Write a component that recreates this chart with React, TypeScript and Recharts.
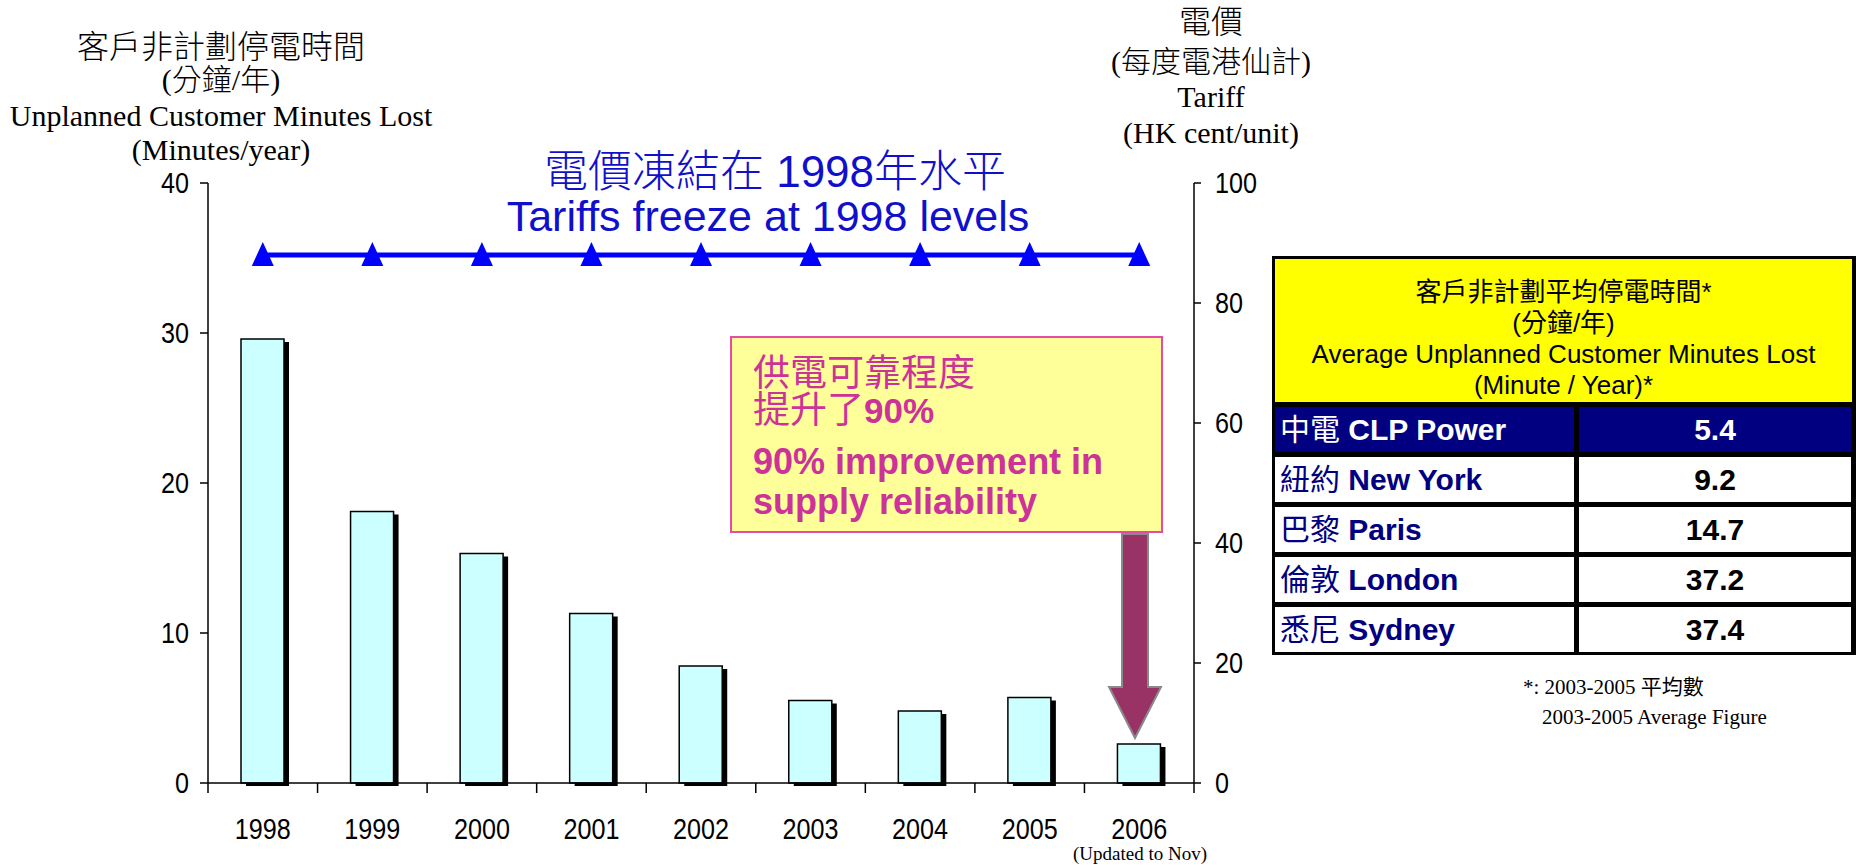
import { ComposedChart, Bar, Line, XAxis, YAxis } from "recharts";

// ---- data ----
const years = ["1998", "1999", "2000", "2001", "2002", "2003", "2004", "2005", "2006"];
const minutesLost = [29.6, 18.1, 15.3, 11.3, 7.8, 5.5, 4.8, 5.7, 2.6];
const tariff = [88, 88, 88, 88, 88, 88, 88, 88, 88]; // HK cent/unit, frozen
const leftTicks = [0, 10, 20, 30, 40];
const rightTicks = [0, 20, 40, 60, 80, 100];

const cityZh = ["中電", "紐約", "巴黎", "倫敦", "悉尼"];
const cityEn = ["CLP Power", "New York", "Paris", "London", "Sydney"];
const cityMinutes = ["5.4", "9.2", "14.7", "37.2", "37.4"];

const chartData = years.map((y, i) => ({ year: y, minutes: minutesLost[i], tariff: tariff[i] }));

const SANS = "'Liberation Sans', Arial, 'Noto Sans CJK TC', sans-serif";
const SERIF = "'Liberation Serif', 'Times New Roman', 'Noto Sans CJK TC', serif";

const ShadowBar = (props: any) => {
  const { x, y, width, height } = props;
  if (!height) return null;
  return (
    <g>
      <rect x={x + 5} y={y + 3} width={width} height={height} fill="#000" />
      <rect x={x} y={y} width={width} height={height} fill="#CCFFFF" stroke="#000" strokeWidth={1.5} />
    </g>
  );
};

const TriangleDot = (props: any) => {
  const { cx, cy, index } = props;
  return <path key={index} d={`M${cx},${cy - 13} L${cx + 11},${cy + 11} L${cx - 11},${cy + 11} Z`} fill="#0000FF" />;
};

// narrow, tall digits like the original
const NarrowText = ({ x, y, anchor, children }: any) => (
  <text
    transform={`translate(${x},${y}) scale(0.84,1)`}
    textAnchor={anchor}
    dominantBaseline="central"
    fill="#000"
    fontSize={30}
    fontFamily={SANS}
  >
    {children}
  </text>
);

const YearTick = (props: any) => {
  const { x, y, payload } = props;
  const half = payload.offset ?? 54.7;
  const idx = payload.index ?? props.index;
  return (
    <g>
      <line x1={x - half} x2={x - half} y1={y} y2={y + 10} stroke="#000" strokeWidth={1.5} />
      {idx === years.length - 1 && <line x1={x + half} x2={x + half} y1={y} y2={y + 10} stroke="#000" strokeWidth={1.5} />}
      <NarrowText x={x} y={y + 46} anchor="middle">{payload.value}</NarrowText>
    </g>
  );
};

const LeftTick = (props: any) => {
  const { x, y, payload } = props;
  return <NarrowText x={x} y={y} anchor="end">{payload.value}</NarrowText>;
};

const RightTick = (props: any) => {
  const { x, y, payload } = props;
  return <NarrowText x={x} y={y} anchor="start">{payload.value}</NarrowText>;
};

const Line1 = ({ cx, cy, size, font, color = "#000", weight = 400, children }: any) => (
  <div
    style={{
      position: "absolute", left: cx - 400, width: 800, top: cy - size * 0.6, height: size * 1.2, lineHeight: `${size * 1.2}px`,
      textAlign: "center", whiteSpace: "nowrap", fontSize: size, fontFamily: font, color, fontWeight: weight,
    }}
  >
    {children}
  </div>
);

export default function App() {
  return (
    <div style={{ position: "absolute", left: 0, top: 0, width: 1856, height: 865, background: "#fff", overflow: "hidden" }}>
      <ComposedChart
        width={1856}
        height={865}
        data={chartData}
        margin={{ top: 183, right: 602, bottom: 22, left: 148 }}
      >
        <XAxis
          dataKey="year"
          height={60}
          axisLine={{ stroke: "#000", strokeWidth: 1.5 }}
          tickLine={false}
          tickSize={0}
          tickMargin={0}
          interval={0}
          tick={<YearTick />}
        />
        <YAxis
          yAxisId="left"
          width={60}
          domain={[0, 40]}
          ticks={leftTicks}
          tickSize={8}
          tickMargin={11}
          axisLine={{ stroke: "#000", strokeWidth: 1.5 }}
          tickLine={{ stroke: "#000", strokeWidth: 1.5 }}
          tick={<LeftTick />}
        />
        <YAxis
          yAxisId="right"
          orientation="right"
          width={60}
          domain={[0, 100]}
          ticks={rightTicks}
          tickSize={7}
          tickMargin={14}
          axisLine={{ stroke: "#000", strokeWidth: 1.5 }}
          tickLine={{ stroke: "#000", strokeWidth: 1.5 }}
          tick={<RightTick />}
        />
        <Bar yAxisId="left" dataKey="minutes" barSize={43} shape={<ShadowBar />} isAnimationActive={false} />
        <Line
          yAxisId="right"
          dataKey="tariff"
          stroke="#0000FF"
          strokeWidth={5}
          dot={<TriangleDot />}
          activeDot={false}
          isAnimationActive={false}
        />
      </ComposedChart>

      {/* left axis title */}
      <Line1 cx={221} cy={47} size={32} font={SERIF} weight={300}>客戶非計劃停電時間</Line1>
      <Line1 cx={221} cy={80} size={30} font={SERIF} weight={300}>(分鐘/年)</Line1>
      <Line1 cx={221} cy={116} size={30} font={SERIF}>Unplanned Customer Minutes Lost</Line1>
      <Line1 cx={221} cy={150} size={30} font={SERIF}>(Minutes/year)</Line1>

      {/* right axis title */}
      <Line1 cx={1211} cy={22} size={32} font={SERIF} weight={300}>電價</Line1>
      <Line1 cx={1211} cy={62} size={30} font={SERIF} weight={300}>(每度電港仙計)</Line1>
      <Line1 cx={1211} cy={97} size={30} font={SERIF}>Tariff</Line1>
      <Line1 cx={1211} cy={133} size={30} font={SERIF}>(HK cent/unit)</Line1>

      {/* tariff freeze title */}
      <Line1 cx={775} cy={172} size={44} font={SANS} color="#1010CC" weight={300}>電價凍結在 1998年水平</Line1>
      <Line1 cx={768} cy={217} size={43} font={SANS} color="#1010CC">Tariffs freeze at 1998 levels</Line1>

      <Line1 cx={1140} cy={854} size={19} font={SERIF}>(Updated to Nov)</Line1>

      {/* reliability callout */}
      <div
        style={{
          position: "absolute", left: 730, top: 336, width: 433, height: 197, boxSizing: "border-box",
          background: "#FFFF99", border: "2px solid #E64BA8",
        }}
      />
      <div style={{ position: "absolute", left: 753, top: 352, lineHeight: "44px", fontSize: 37, fontFamily: SANS, color: "#CC3399", whiteSpace: "nowrap" }}>
        供電可靠程度
      </div>
      <div style={{ position: "absolute", left: 753, top: 389, lineHeight: "44px", fontSize: 37, fontFamily: SANS, color: "#CC3399", whiteSpace: "nowrap" }}>
        提升了<b style={{ fontSize: 35 }}>90%</b>
      </div>
      <div style={{ position: "absolute", left: 753, top: 440, lineHeight: "44px", fontSize: 36, fontWeight: 700, fontFamily: SANS, color: "#CC3399", whiteSpace: "nowrap" }}>
        90% improvement in
      </div>
      <div style={{ position: "absolute", left: 753, top: 480, lineHeight: "44px", fontSize: 36, fontWeight: 700, fontFamily: SANS, color: "#CC3399", whiteSpace: "nowrap" }}>
        supply reliability
      </div>
      <svg width={1856} height={865} style={{ position: "absolute", left: 0, top: 0, pointerEvents: "none" }}>
        <polygon
          points="1122,534 1148,534 1148,687 1161,687 1135,738 1109,687 1122,687"
          fill="#993366"
          stroke="#8A8A8A"
          strokeWidth={2}
        />
      </svg>

      {/* comparison table */}
      <div style={{ position: "absolute", left: 1272, top: 256, width: 584, background: "#000", padding: "3px 0 3px 3px", boxSizing: "border-box" }}>
        <div
          style={{
            background: "#FFFF00", height: 143, paddingTop: 18, boxSizing: "border-box", textAlign: "center",
            fontFamily: SANS, fontSize: 26, lineHeight: "31px", color: "#000", marginRight: 4,
          }}
        >
          <div>客戶非計劃平均停電時間*</div>
          <div>(分鐘/年)</div>
          <div>Average Unplanned Customer Minutes Lost</div>
          <div>(Minute / Year)*</div>
        </div>
        {cityEn.map((c, i) => {
          const bg = i === 0 ? "#000080" : "#fff";
          const fg = i === 0 ? "#fff" : "#000080";
          return (
            <div key={c} style={{ display: "flex", marginTop: 5, height: 45 }}>
              <div
                style={{
                  width: 299, background: bg, color: fg, fontFamily: SANS, fontWeight: 700, fontSize: 30,
                  lineHeight: "45px", paddingLeft: 5, boxSizing: "border-box", whiteSpace: "nowrap",
                }}
              >
                <span style={{ fontWeight: 400 }}>{cityZh[i]}</span> {c}
              </div>
              <div
                style={{
                  marginLeft: 5, width: 272, background: bg, color: i === 0 ? "#fff" : "#000", fontFamily: SANS,
                  fontWeight: 700, fontSize: 30, lineHeight: "45px", textAlign: "center",
                }}
              >
                {cityMinutes[i]}
              </div>
            </div>
          );
        })}
      </div>

      {/* footnote */}
      <div style={{ position: "absolute", left: 1523, top: 687 - 14, lineHeight: "28px", fontFamily: SERIF, fontSize: 21, whiteSpace: "nowrap" }}>
        *: 2003-2005 平均數
      </div>
      <div style={{ position: "absolute", left: 1542, top: 717 - 14, lineHeight: "28px", fontFamily: SERIF, fontSize: 21, whiteSpace: "nowrap" }}>
        2003-2005 Average Figure
      </div>
    </div>
  );
}
